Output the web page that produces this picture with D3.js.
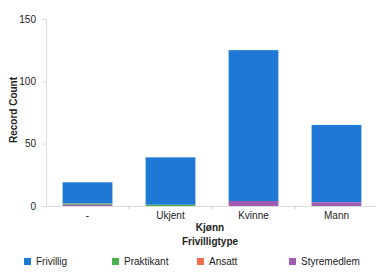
<!DOCTYPE html>
<html>
<head>
<meta charset="utf-8">
<script src="https://cdn.jsdelivr.net/npm/d3@7"></script>
<style>
  body { margin: 0; background: #fff; }
  text { font-family: "Liberation Sans", Arial, sans-serif; fill: #222; }
</style>
</head>
<body>
<div id="chart"></div>
<script>
// categories and series values
var categories = ["-", "Ukjent", "Kvinne", "Mann"];
var seriesNames = ["Frivillig", "Praktikant", "Ansatt", "Styremedlem"];
var frivillig = [17, 38, 121, 62];
var praktikant = [1, 1, 0, 0];
var ansatt = [0, 0, 0, 0];
var styremedlem = [1, 0, 4, 3];
var yTicks = [0, 50, 100, 150];
var colors = ["#1f78d6", "#4cb050", "#f2704e", "#a05cb0"];

var width = 376, height = 273;

var svg = d3.select("#chart")
  .append("svg")
    .attr("width", width)
    .attr("height", height);

// build rows for stacking (small series sit at the bottom)
var rows = categories.map(function(c, i) {
  return { cat: c, Frivillig: frivillig[i], Praktikant: praktikant[i], Ansatt: ansatt[i], Styremedlem: styremedlem[i] };
});
var stacked = d3.stack()
  .keys(seriesNames)
  .order(d3.stackOrderReverse)(rows);

var x = d3.scaleBand()
  .domain(categories)
  .range([46, 378])
  .paddingInner(0.4)
  .paddingOuter(0.2);

var y = d3.scaleLinear()
  .domain([0, 150])
  .range([206, 19]);

// axes lines
svg.append("line")
  .attr("x1", 46.5).attr("x2", 46.5)
  .attr("y1", y(150)).attr("y2", y(0))
  .attr("stroke", "#ddd");
svg.append("line")
  .attr("x1", 46).attr("x2", 376)
  .attr("y1", y(0) + 0.5).attr("y2", y(0) + 0.5)
  .attr("stroke", "#ddd");

// y ticks
svg.selectAll(".ytick")
  .data(yTicks)
  .enter()
  .append("line")
    .attr("x1", 42).attr("x2", 46)
    .attr("y1", function(d) { return y(d) + 0.5; })
    .attr("y2", function(d) { return y(d) + 0.5; })
    .attr("stroke", "#ddd");
svg.selectAll(".ylab")
  .data(yTicks)
  .enter()
  .append("text")
    .attr("class", "ylab")
    .attr("x", 36)
    .attr("y", function(d) { return y(d); })
    .attr("dy", "0.35em")
    .attr("text-anchor", "end")
    .style("font-size", "10px")
    .text(function(d) { return d; });

// small ticks between categories
svg.selectAll(".xtick")
  .data(categories.slice(1))
  .enter()
  .append("line")
    .attr("x1", function(d) { return x(d) - x.step() * 0.2; })
    .attr("x2", function(d) { return x(d) - x.step() * 0.2; })
    .attr("y1", y(0)).attr("y2", y(0) + 3)
    .attr("stroke", "#ccc");

// bars
svg.append("g")
  .selectAll("g")
  .data(stacked)
  .enter()
  .append("g")
    .attr("fill", function(d) { return colors[seriesNames.indexOf(d.key)]; })
  .selectAll("rect")
  .data(function(d) { return d; })
  .enter()
  .append("rect")
    .attr("x", function(d) { return x(d.data.cat); })
    .attr("width", x.bandwidth())
    .attr("y", function(d) { return y(d[1]); })
    .attr("height", function(d) { return y(d[0]) - y(d[1]); });

// category labels
svg.selectAll(".xlab")
  .data(categories)
  .enter()
  .append("text")
    .attr("x", function(d) { return x(d) + x.bandwidth() / 2; })
    .attr("y", 219)
    .attr("text-anchor", "middle")
    .style("font-size", "10px")
    .text(function(d) { return d; });

// titles
svg.append("text")
  .attr("x", 210).attr("y", 231)
  .attr("text-anchor", "middle")
  .style("font-size", "10px").style("font-weight", "bold")
  .text("Kjønn");
svg.append("text")
  .attr("x", 210).attr("y", 245)
  .attr("text-anchor", "middle")
  .style("font-size", "10px").style("font-weight", "bold")
  .text("Frivilligtype");
svg.append("text")
  .attr("transform", "translate(17,110) rotate(-90)")
  .attr("text-anchor", "middle")
  .style("font-size", "10px").style("font-weight", "bold")
  .text("Record Count");

// legend
var legendX = [24, 112, 197, 289];
var legend = svg.selectAll(".leg")
  .data(seriesNames)
  .enter()
  .append("g")
    .attr("transform", function(d, i) { return "translate(" + legendX[i] + ",258)"; });
legend.append("rect")
  .attr("width", 7).attr("height", 7)
  .attr("fill", function(d, i) { return colors[i]; });
legend.append("text")
  .attr("x", 12).attr("y", 7)
  .style("font-size", "10px")
  .text(function(d) { return d; });
</script>
</body>
</html>
